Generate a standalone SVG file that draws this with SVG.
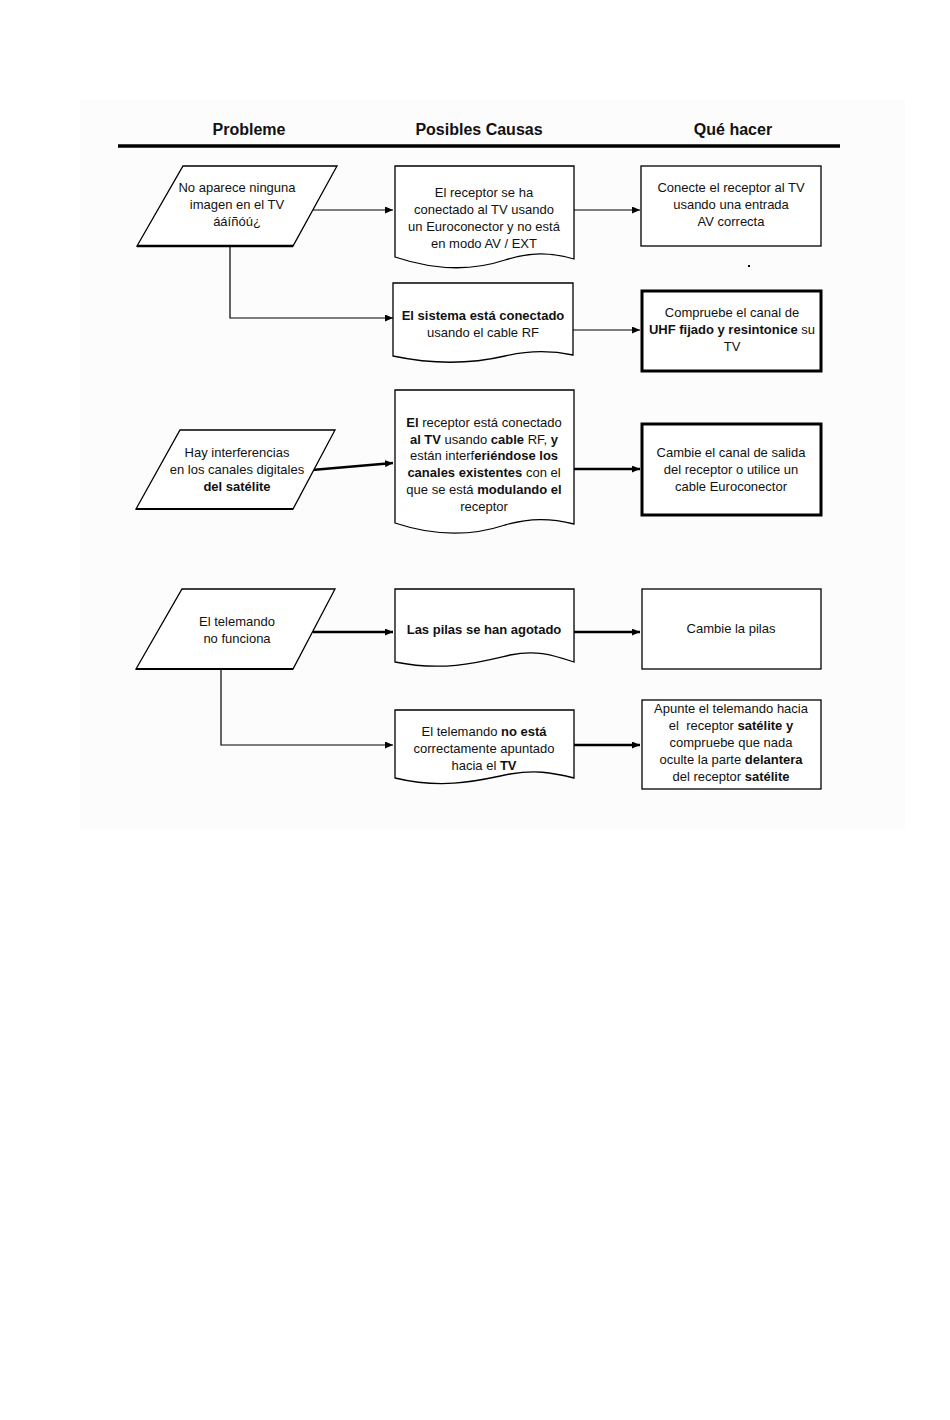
<svg xmlns="http://www.w3.org/2000/svg" width="950" height="1420" viewBox="0 0 950 1420">
<style>
.t{font-family:"Liberation Sans",Arial,sans-serif;font-size:13px;fill:#111;text-anchor:middle}
.h{font-family:"Liberation Sans",Arial,sans-serif;font-size:16px;font-weight:bold;fill:#111;text-anchor:middle}
.s{fill:#fff;stroke:#000;stroke-width:1.3}
.sb{fill:#fff;stroke:#000;stroke-width:3}
.c{fill:none;stroke:#000;stroke-width:1.2}
.cb{fill:none;stroke:#000;stroke-width:2.4}
b,.b{font-weight:bold}
</style>
<defs>
<marker id="ah" markerUnits="userSpaceOnUse" markerWidth="8" markerHeight="7" refX="8" refY="3.5" orient="auto">
<path d="M0,0 L8,3.5 L0,7 z" fill="#000"/>
</marker>
</defs>
<rect width="950" height="1420" fill="#fff"/>
<rect x="80" y="100" width="825" height="729" fill="#fcfcfc"/>
<g id="header">
<text class="h" x="249" y="135">Probleme</text>
<text class="h" x="479" y="135">Posibles Causas</text>
<text class="h" x="733" y="135">Qué hacer</text>
<line x1="118" y1="146" x2="840" y2="146" stroke="#000" stroke-width="3.5"/>
</g>
<g id="connectors">
<path class="c" d="M313,210 L393,210" marker-end="url(#ah)"/>
<path class="c" d="M230,247 L230,318 L393,318" marker-end="url(#ah)"/>
<path class="c" d="M574,210 L640,210" marker-end="url(#ah)"/>
<path class="c" d="M573,330 L640,330" marker-end="url(#ah)"/>
<path class="cb" d="M312,470 L393,463" marker-end="url(#ah)"/>
<path class="cb" d="M574,469 L640,469" marker-end="url(#ah)"/>
<path class="cb" d="M313,632 L393,632" marker-end="url(#ah)"/>
<path class="cb" d="M574,632 L640,632" marker-end="url(#ah)"/>
<path class="c" d="M221,669 L221,745 L393,745" marker-end="url(#ah)"/>
<path class="cb" d="M574,745 L640,745" marker-end="url(#ah)"/>
</g>
<g id="p1">
<path class="s" d="M183,166 L337,166 L293,246 L137,246 Z"/>
<line x1="137" y1="246" x2="293" y2="246" stroke="#000" stroke-width="2.5"/>
<text class="t" x="237" y="192">No aparece ninguna</text>
<text class="t" x="237" y="209">imagen en el TV</text>
<text class="t" x="237" y="226">ááíñóú¿</text>
</g>
<g id="c1">
<path class="s" d="M395,166 L574,166 L574,259 C550,252 530,252 505,260 C475,270 440,272 395,257 Z"/>
<text class="t" x="484" y="197">El receptor se ha</text>
<text class="t" x="484" y="214">conectado al TV usando</text>
<text class="t" x="484" y="231">un Euroconector y no está</text>
<text class="t" x="484" y="248">en modo AV / EXT</text>
</g>
<g id="s1">
<rect class="s" x="641" y="166" width="180" height="80" stroke-width="1.8"/>
<text class="t" x="731" y="192">Conecte el receptor al TV</text>
<text class="t" x="731" y="209">usando una entrada</text>
<text class="t" x="731" y="226">AV correcta</text>
</g>
<rect x="748" y="265" width="2" height="2" fill="#000"/>
<g id="c2">
<path class="s" d="M393,283 L573,283 L573,355 C550,350 530,350 505,356 C475,363 440,366 393,356 Z"/>
<text class="t" x="483" y="320"><tspan class="b">El sistema está conectado</tspan></text>
<text class="t" x="483" y="337">usando el cable RF</text>
</g>
<g id="s2">
<rect class="sb" x="642" y="291" width="179" height="80"/>
<text class="t" x="732" y="317">Compruebe el canal de</text>
<text class="t" x="732" y="334"><tspan class="b">UHF fijado y resintonice</tspan> su</text>
<text class="t" x="732" y="351">TV</text>
</g>
<g id="p2">
<path class="s" d="M180,430 L335,430 L293,509 L136,509 Z"/>
<line x1="136" y1="509" x2="293" y2="509" stroke="#000" stroke-width="2"/>
<text class="t" x="237" y="457">Hay interferencias</text>
<text class="t" x="237" y="474">en los canales digitales</text>
<text class="t" x="237" y="491"><tspan class="b">del satélite</tspan></text>
</g>
<g id="c3">
<path class="s" d="M395,390 L574,390 L574,524 C550,518 530,518 505,525 C475,535 440,538 395,523 Z"/>
<text class="t" x="484" y="427"><tspan class="b">El</tspan> receptor está conectado</text>
<text class="t" x="484" y="444"><tspan class="b">al TV</tspan> usando <tspan class="b">cable</tspan> RF, <tspan class="b">y</tspan></text>
<text class="t" x="484" y="460">están interf<tspan class="b">eriéndose los</tspan></text>
<text class="t" x="484" y="477"><tspan class="b">canales existentes</tspan> con el</text>
<text class="t" x="484" y="494">que se está <tspan class="b">modulando el</tspan></text>
<text class="t" x="484" y="511">receptor</text>
</g>
<g id="s3">
<rect class="sb" x="642" y="424" width="179" height="91"/>
<text class="t" x="731" y="457">Cambie el canal de salida</text>
<text class="t" x="731" y="474">del receptor o utilice un</text>
<text class="t" x="731" y="491">cable Euroconector</text>
</g>
<g id="p3">
<path class="s" d="M182,589 L335,589 L293,669 L136,669 Z"/>
<line x1="136" y1="669" x2="293" y2="669" stroke="#000" stroke-width="2"/>
<text class="t" x="237" y="626">El telemando</text>
<text class="t" x="237" y="643">no funciona</text>
</g>
<g id="c4">
<path class="s" d="M395,589 L574,589 L574,662 C550,654 535,650 510,655 C480,662 445,672 395,662 Z"/>
<text class="t" x="484" y="634"><tspan class="b">Las pilas se han agotado</tspan></text>
</g>
<g id="s4">
<rect class="s" x="642" y="589" width="179" height="80"/>
<text class="t" x="731" y="633">Cambie la pilas</text>
</g>
<g id="c5">
<path class="s" d="M395,710 L574,710 L574,778 C550,772 535,770 510,774 C480,780 445,790 395,778 Z"/>
<text class="t" x="484" y="736">El telemando <tspan class="b">no está</tspan></text>
<text class="t" x="484" y="753">correctamente apuntado</text>
<text class="t" x="484" y="770">hacia el <tspan class="b">TV</tspan></text>
</g>
<g id="s5">
<rect class="s" x="642" y="700" width="179" height="89"/>
<text class="t" x="731" y="713">Apunte el telemando hacia</text>
<text class="t" x="731" y="730" xml:space="preserve">el  receptor <tspan class="b">satélite y</tspan></text>
<text class="t" x="731" y="747">compruebe que nada</text>
<text class="t" x="731" y="764">oculte la parte <tspan class="b">delantera</tspan></text>
<text class="t" x="731" y="781">del receptor <tspan class="b">satélite</tspan></text>
</g>
</svg>
